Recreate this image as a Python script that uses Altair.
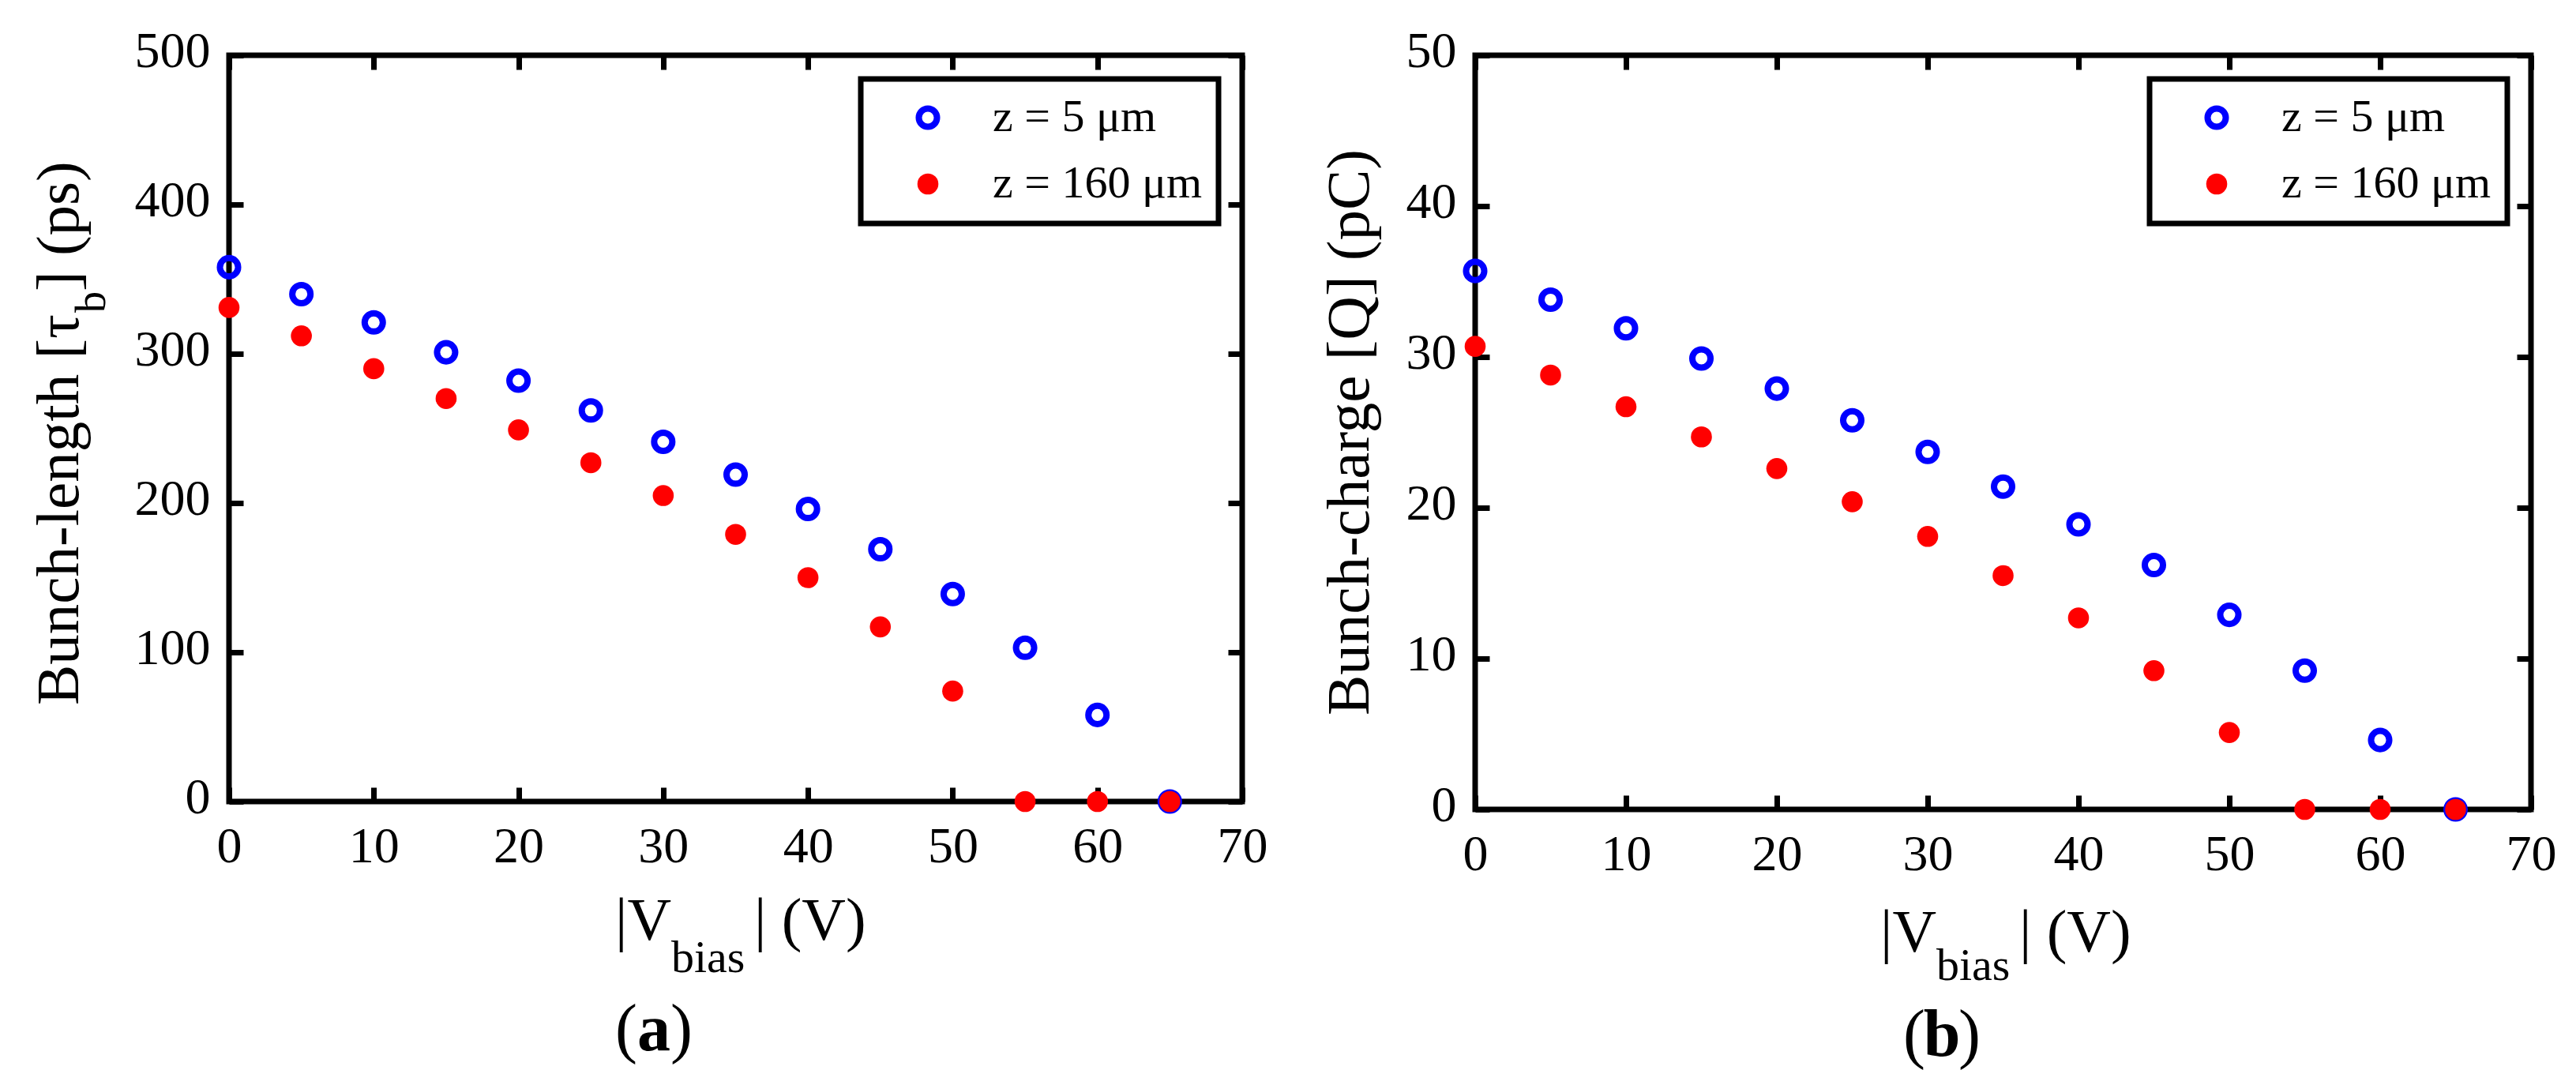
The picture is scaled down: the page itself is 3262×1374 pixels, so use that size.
import altair as alt
import pandas as pd

# ---------------- data ----------------
V = [0, 5, 10, 15, 20, 25, 30, 35, 40, 45, 50, 55, 60, 65]
tau_5um = [358, 340, 321, 301, 282, 262, 241, 219, 196, 169, 139, 103, 58, 0]
tau_160um = [331, 312, 290, 270, 249, 227, 205, 179, 150, 117, 74, 0, 0, 0]
Q_5um = [35.7, 33.8, 31.9, 29.9, 27.9, 25.8, 23.7, 21.4, 18.9, 16.2, 12.9, 9.2, 4.6, 0]
Q_160um = [30.7, 28.8, 26.7, 24.7, 22.6, 20.4, 18.1, 15.5, 12.7, 9.2, 5.1, 0, 0, 0]
series_labels = ["z = 5 μm", "z = 160 μm"]
series_colors = ["#0000ff", "#ff0000"]
x_ticks = [0, 10, 20, 30, 40, 50, 60, 70]
tau_ticks = [0, 100, 200, 300, 400, 500]
Q_ticks = [0, 10, 20, 30, 40, 50]

FONT = "Liberation Serif"


def long_df(y5, y160):
    rows = []
    for v, a in zip(V, y5):
        rows.append({"V": v, "val": a, "series": series_labels[0]})
    for v, b in zip(V, y160):
        rows.append({"V": v, "val": b, "series": series_labels[1]})
    return pd.DataFrame(rows)


def txt(s, x, y, size, angle=0, align="left", weight="normal"):
    return alt.Chart(pd.DataFrame({"t": [s]})).mark_text(
        font=FONT, fontSize=size, angle=angle, align=align,
        baseline="alphabetic", fontWeight=weight, color="black"
    ).encode(text="t:N", x=alt.value(x), y=alt.value(y))


def tick_axis(orient, values, labels=True, **kw):
    return alt.Axis(
        orient=orient, values=values, title=None, domain=False, grid=False,
        offset=-18, tickSize=18, tickWidth=7, tickColor="black",
        labels=labels, labelFlush=False, labelOverlap=False, **kw
    )


def panel(df, ydomain, yticks, w, h, texts):
    xscale = alt.Scale(domain=[0, 70], nice=False, zero=False)
    yscale = alt.Scale(domain=ydomain, nice=False)
    ticks = alt.Chart(df).mark_point(opacity=0).encode(
        x=alt.X("V:Q", scale=xscale, axis=tick_axis("top", x_ticks, labels=False)),
        y=alt.Y("val:Q", scale=yscale, axis=tick_axis("right", yticks, labels=False)),
    )
    pts = alt.Chart(df).mark_point(
        shape="circle", strokeWidth=8, opacity=1, filled=True, clip=False
    ).encode(
        x=alt.X("V:Q", scale=xscale,
                axis=tick_axis("bottom", x_ticks, labelPadding=25)),
        y=alt.Y("val:Q", scale=yscale,
                axis=tick_axis("left", yticks, labelPadding=24, labelOffset=-5)),
        stroke=alt.Stroke("series:N",
                          scale=alt.Scale(domain=series_labels,
                                          range=[series_colors[0], "transparent"]),
                          legend=alt.Legend(title=None)),
        fill=alt.Fill("series:N",
                      scale=alt.Scale(domain=series_labels,
                                      range=["transparent", series_colors[1]]),
                      legend=alt.Legend(title=None)),
        size=alt.Size("series:N",
                      scale=alt.Scale(domain=series_labels, range=[531, 707]),
                      legend=alt.Legend(title=None)),
    )
    return alt.layer(ticks, pts, *texts).resolve_axis(
        x="independent", y="independent"
    ).properties(width=w, height=h)


# ---------- panel (a) ----------
WA, HA = 1283, 945
texts_a = [
    # y title: Bunch-length [τ_b] (ps)
    txt("Bunch-length [τ", -191, 823, 77, angle=270),
    txt("b", -157, 326, 54, angle=270),
    txt("] (ps)", -191, 299, 77, angle=270),
    # x title: |V_bias| (V)
    txt("|V", 489, HA + 175, 77),
    txt("bias", 560, HA + 216, 58),
    txt("| (V)", 665, HA + 175, 77),
    # panel label (a)
    txt("(", 517, 1260, 84, align="right"),
    txt("a", 538, 1260, 84, align="center", weight="bold"),
    txt(")", 559, 1260, 84),
]
pa = panel(long_df(tau_5um, tau_160um), [0, 500], tau_ticks, WA, HA, texts_a)

# ---------- panel (b) ----------
WB, HB = 1337, 955
texts_b = [
    txt("Bunch-charge [Q] (pC)", -135, HB / 2, 77, angle=270, align="center"),
    txt("|V", 513, HB + 180, 77),
    txt("bias", 584, HB + 216, 58),
    txt("| (V)", 689, HB + 180, 77),
    txt("(", 570, 1267, 84, align="right"),
    txt("b", 591, 1267, 84, align="center", weight="bold"),
    txt(")", 612, 1267, 84),
]
pb = panel(long_df(Q_5um, Q_160um), [0, 50], Q_ticks, WB, HB, texts_b)

chart = alt.hconcat(pa, pb, spacing=58).resolve_scale(
    stroke="independent", fill="independent", size="independent"
).resolve_legend(
    stroke="independent", fill="independent", size="independent"
).properties(
    padding={"left": 25, "top": 21, "right": 0, "bottom": 0},
    background="white",
).configure_view(
    stroke="black", strokeWidth=7
).configure_axis(
    labelFont=FONT, labelFontSize=64, labelColor="black"
).configure_legend(
    orient="top-right", offset=30, padding=20,
    strokeColor="black", strokeWidth=7, fillColor="white",
    labelFont=FONT, labelFontSize=58, labelColor="black", labelLimit=600,
    symbolType="circle", symbolStrokeWidth=8,
    symbolOffset=36, labelOffset=53, rowPadding=25,
)

chart.save("out.html", embed_options={"renderer": "svg", "actions": False})
